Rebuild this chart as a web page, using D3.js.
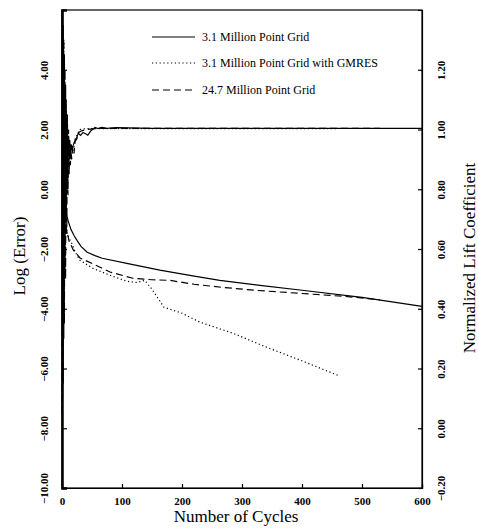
<!DOCTYPE html>
<html>
<head>
<meta charset="utf-8">
<script src="https://cdn.jsdelivr.net/npm/d3@7"></script>
<style>
  html, body { margin: 0; padding: 0; background: #fff; }
  svg { display: block; font-family: "Liberation Serif", "Times New Roman", serif; }
</style>
</head>
<body>
<svg id="chart" width="478" height="528"></svg>
<script>
// ---- data ----
const xTicks = [0, 100, 200, 300, 400, 500, 600];
const leftTicks = [-10, -8, -6, -4, -2, 0, 2, 4];
const rightTicks = [-0.2, 0, 0.2, 0.4, 0.6, 0.8, 1.0, 1.2];

const legendLabels = [
  "3.1 Million Point Grid",
  "3.1 Million Point Grid with GMRES",
  "24.7 Million Point Grid"
];

// Log(Error) histories: [cycle, log error]
const errSolid = [[0,0.5],[3,-0.2],[6,-0.7],[10,-1.04],[15,-1.35],[20,-1.55],[25,-1.71],[32,-1.92],[42,-2.11],[55,-2.22],[67,-2.31],[108,-2.48],[163,-2.71],[218,-2.9],[263,-3.05],[330,-3.22],[400,-3.38],[500,-3.62],[600,-3.92]];
const errDotted = [[0,0.2],[4,-0.9],[8,-1.45],[12,-1.65],[16,-1.8],[22,-2.1],[30,-2.38],[52,-2.65],[80,-2.88],[108,-3.08],[125,-3.12],[138,-3.05],[150,-3.35],[160,-3.65],[170,-3.95],[185,-4.05],[200,-4.15],[230,-4.45],[285,-4.82],[341,-5.29],[397,-5.72],[460,-6.23]];
const errDashed = [[0,0.3],[4,-0.8],[8,-1.4],[12,-1.75],[19,-2.04],[30,-2.3],[52,-2.5],[80,-2.77],[118,-2.98],[150,-3.03],[180,-3.05],[220,-3.18],[265,-3.28],[320,-3.38],[400,-3.49],[480,-3.6],[530,-3.7]];

// Normalized lift coefficient histories: [cycle, CL/CLref]
const liftSolid = [[0,1.4],[1,0.1],[2,1.35],[3,0.3],[4,1.25],[5,0.5],[6,1.15],[7,0.7],[8,1.05],[9,0.8],[11,0.97],[13,0.9],[15,0.95],[17,0.935],[20,0.955],[22,0.965],[25,0.975],[27,0.987],[31,0.98],[35,0.99],[40,0.985],[43,0.981],[48,0.995],[55,1.007],[60,1.003],[66,1.007],[75,1.004],[90,1.006],[150,1.004],[300,1.004],[600,1.004]];
const liftDotted = [[0,0.6],[1,1.4],[2,0.4],[3,1.3],[4,0.55],[5,1.15],[6,0.7],[7,1.08],[8,0.8],[9,1.0],[10,0.85],[12,0.96],[14,0.9],[16,0.95],[19,0.93],[22,0.97],[26,0.985],[30,1.0],[40,1.003],[460,1.003]];
const liftDashed = [[0,0.05],[1,1.4],[2,0.15],[3,1.3],[4,0.35],[5,1.2],[6,0.5],[7,1.1],[8,0.65],[9,1.05],[10,0.78],[11,1.0],[12,0.85],[13,0.97],[14,0.88],[15,0.95],[16,0.9],[18,0.94],[20,0.92],[22,0.96],[25,0.97],[28,0.99],[32,0.995],[40,1.0],[60,1.004],[530,1.004]];

// ---- layout ----
const svg = d3.select("#chart");
const L = 62, R = 422, T = 10, B = 488;

const x = d3.scaleLinear().domain([0, 600]).range([L, R]);
const yL = d3.scaleLinear().domain([-10, 6]).range([B, T]);
const yR = d3.scaleLinear().domain([-0.2, 1.4]).range([B, T]);

const styles = {
  solid: null,
  dotted: "1.2,2.6",
  dashed: "7,4"
};

// frame
svg.append("rect").attr("x", L).attr("y", T).attr("width", R - L).attr("height", B - T)
  .attr("fill", "none").attr("stroke", "#000").attr("stroke-width", 1.2);

// axes (ticks inward)
const gx = svg.append("g").attr("transform", `translate(0,${B})`)
  .call(d3.axisBottom(x).tickValues(xTicks).tickSize(-4).tickPadding(9).tickFormat(d3.format("d")));
const gl = svg.append("g").attr("transform", `translate(${L},0)`)
  .call(d3.axisLeft(yL).tickValues(leftTicks).tickSize(-5).tickFormat(d3.format(".2f")));
const gr = svg.append("g").attr("transform", `translate(${R},0)`)
  .call(d3.axisRight(yR).tickValues(rightTicks).tickSize(-4).tickFormat(d3.format(".2f")));

[gx, gl, gr].forEach(g => {
  g.select(".domain").attr("stroke", "#000").attr("stroke-width", 1.2);
  g.selectAll(".tick line").attr("stroke", "#000").attr("stroke-width", 1.2);
  g.selectAll("text").attr("fill", "#000").attr("font-family", "Liberation Serif")
    .attr("font-size", 11).attr("font-weight", "bold");
});
gl.select(".domain").attr("stroke-width", 2.5);

// rotate y tick labels
gl.selectAll(".tick text")
  .attr("x", null).attr("dy", null)
  .attr("text-anchor", "middle")
  .attr("transform", "translate(-14,0) rotate(-90)");
gr.selectAll(".tick text")
  .attr("x", null).attr("dy", null)
  .attr("text-anchor", "middle")
  .attr("transform", "translate(23,0) rotate(-90)");

// series
const lineL = d3.line().x(d => x(d[0])).y(d => yL(d[1]));
const lineR = d3.line().x(d => x(d[0])).y(d => yR(d[1]));

const plot = svg.append("g");
function draw(data, gen, style) {
  plot.append("path").datum(data).attr("d", gen)
    .attr("fill", "none").attr("stroke", "#000").attr("stroke-width", 1.2)
    .attr("stroke-dasharray", styles[style]);
}
draw(liftDotted, lineR, "dotted");
draw(liftDashed, lineR, "dashed");
draw(liftSolid, lineR, "solid");
draw(errDotted, lineL, "dotted");
draw(errDashed, lineL, "dashed");
draw(errSolid, lineL, "solid");

// legend
const legendStyles = ["solid", "dotted", "dashed"];
const legendY = [37, 63, 90];
legendLabels.forEach((lab, i) => {
  svg.append("line").attr("x1", 152).attr("x2", 195)
    .attr("y1", legendY[i]).attr("y2", legendY[i])
    .attr("stroke", "#000").attr("stroke-width", 1.2)
    .attr("stroke-dasharray", styles[legendStyles[i]]);
  svg.append("text").attr("x", 202).attr("y", legendY[i] + 4)
    .attr("font-size", 12).attr("fill", "#000").text(lab);
});

// axis titles
svg.append("text").attr("x", 236).attr("y", 522).attr("text-anchor", "middle")
  .attr("font-size", 17).attr("fill", "#000").text("Number of Cycles");
svg.append("text").attr("transform", "translate(25,256) rotate(-90)").attr("text-anchor", "middle")
  .attr("font-size", 17).attr("fill", "#000").text("Log (Error)");
svg.append("text").attr("transform", "translate(475,258) rotate(-90)").attr("text-anchor", "middle")
  .attr("font-size", 17).attr("fill", "#000").text("Normalized Lift Coefficient");
</script>
</body>
</html>
